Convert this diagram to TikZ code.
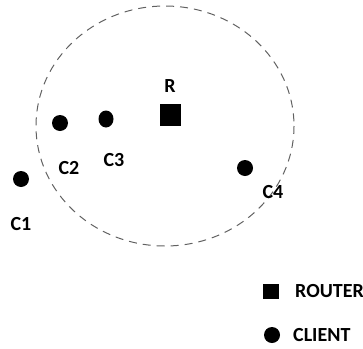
\documentclass[tikz,border=0pt]{standalone}
\usepackage{fontspec}
\setmainfont{Carlito}
\usetikzlibrary{shapes.geometric}
\begin{document}
\begin{tikzpicture}[x=1pt,y=-1pt,
  client/.style={circle,fill=black,inner sep=0pt,minimum size=16pt},
  router/.style={rectangle,fill=black,inner sep=0pt,minimum width=21pt,minimum height=22pt},
  lbl/.style={font=\fontsize{20}{24}\selectfont\bfseries,inner sep=0pt},
  coverage/.style={draw=black!62,line width=1pt,dash pattern=on 8pt off 6pt}]
  \useasboundingbox (0,0) rectangle (363,348);
  % coverage area of the router
  \draw[coverage] (165,126) ellipse [x radius=129, y radius=120];
  % router
  \node[router] (R) at (170,115) {};
  \node[lbl] (Rl) at (170,86) {R};
  % clients
  \node[client] (C1) at (21,179) {};
  \node[client] (C2) at (60,123) {};
  \node[ellipse,fill=black,inner sep=0pt,minimum width=15pt,minimum height=17pt] (C3) at (106,119) {};
  \node[client] (C4) at (245,168) {};
  \node[lbl] (C1l) at (21,224) {C1};
  \node[lbl] (C2l) at (69,168) {C2};
  \node[lbl] (C3l) at (114,160) {C3};
  \node[lbl] (C4l) at (273,192) {C4};
  % legend
  \node[router,minimum width=16pt,minimum height=15pt] (LR) at (271,291) {};
  \node[lbl,anchor=west] (LRt) at (295,291) {ROUTER};
  \node[client] (LC) at (272,335) {};
  \node[lbl,anchor=west] (LCt) at (293,335) {CLIENT};
\end{tikzpicture}
\end{document}
